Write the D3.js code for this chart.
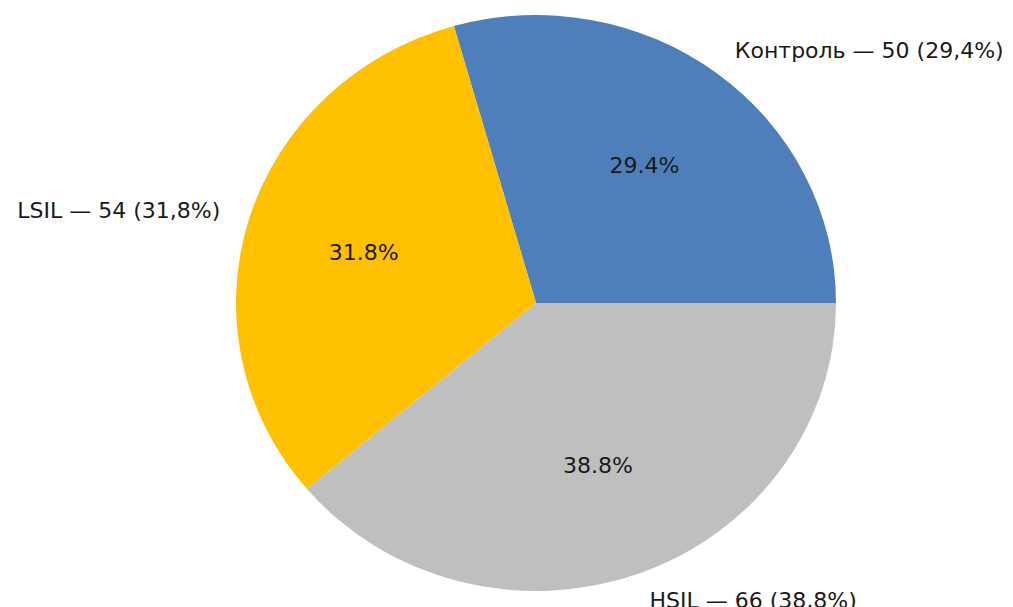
<!DOCTYPE html>
<html>
<head>
<meta charset="utf-8">
<script src="https://cdn.jsdelivr.net/npm/d3@7"></script>
<style>
  body { margin: 0; background: #fff; }
  svg { display: block; }
</style>
</head>
<body>
<svg id="svg" width="1013" height="607"></svg>
<script>
const names = ["Контроль", "LSIL", "HSIL"];
const counts = [50, 54, 66];
const colors = ["#4f7fbb", "#ffc000", "#bfbfbf"];

const W = 1013, H = 607;
const cx = 536, cy = 303;
const rx = 300, ry = 288;

const total = d3.sum(counts);

// matplotlib style: start at 3 o'clock, go counter-clockwise
const pie = d3.pie().sort(null).value(d => d)
    .startAngle(Math.PI / 2).endAngle(Math.PI / 2 - 2 * Math.PI);
const arcs = pie(counts);

const svg = d3.select("#svg");
const g = svg.append("g")
    .attr("transform", "translate(" + cx + "," + cy + ") scale(1," + (ry / rx) + ")");

const arc = d3.arc().innerRadius(0).outerRadius(rx);

g.selectAll("path").data(arcs).enter().append("path")
    .attr("d", arc)
    .attr("fill", (d, i) => colors[i]);

// point at fraction of radius along the middle angle (d3 angle, 0 = up, clockwise)
const pt = (d, f) => {
    let a = (d.startAngle + d.endAngle) / 2;
    return { x: cx + Math.sin(a) * rx * f, y: cy - Math.cos(a) * ry * f };
};

const font = "'DejaVu Sans', sans-serif";

arcs.forEach((d, i) => {
    let p = pt(d, 0.6);
    svg.append("text").attr("x", p.x).attr("y", p.y)
        .attr("text-anchor", "middle").attr("dominant-baseline", "central")
        .style("font-family", font).style("font-size", "22px").style("fill", "#1a1a1a")
        .text(d3.format(".1f")(counts[i] / total * 100) + "%");

    let q = pt(d, 1.1);
    let pct = (counts[i] / total * 100).toFixed(1).replace(".", ",");
    svg.append("text").attr("x", q.x).attr("y", q.y)
        .attr("text-anchor", q.x < cx ? "end" : "start").attr("dominant-baseline", "central")
        .style("font-family", font).style("font-size", "22px").style("fill", "#1a1a1a")
        .text(names[i] + " — " + counts[i] + " (" + pct + "%)");
});
</script>
</body>
</html>
